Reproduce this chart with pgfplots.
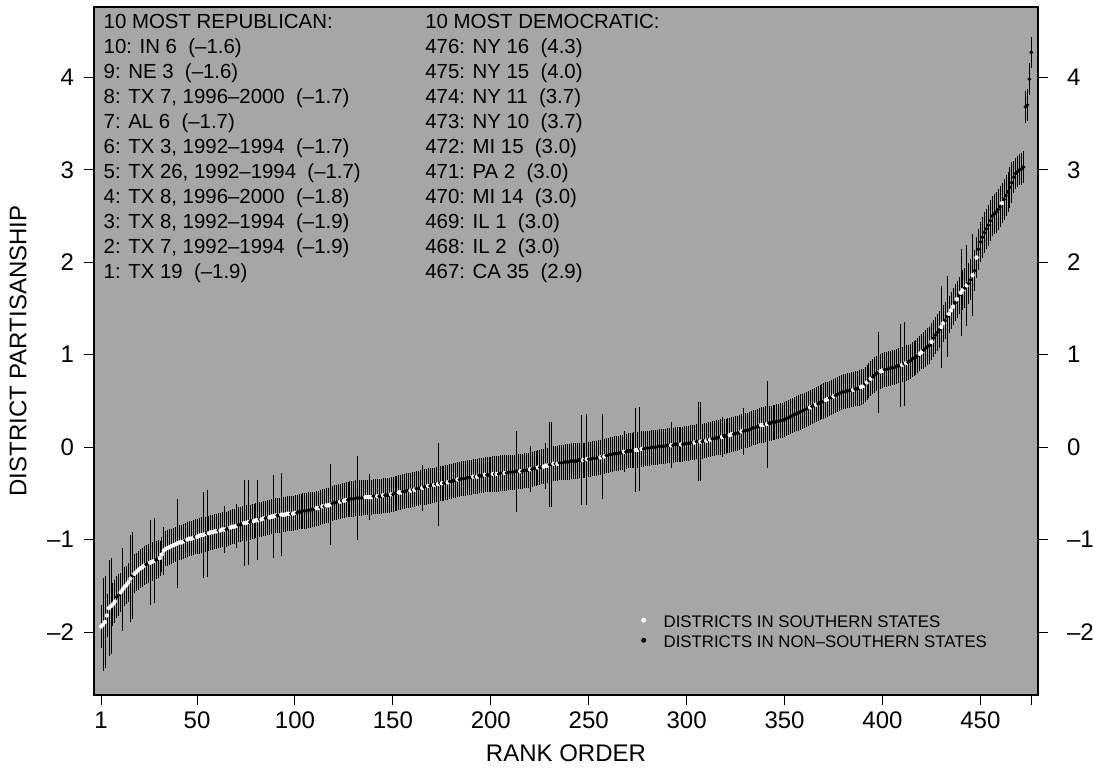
\documentclass[border=0pt]{standalone}
\usepackage{pgfplots}
\pgfplotsset{compat=1.18}
\usepackage{pgfplotstable}
\usepackage{fontspec}
\setmainfont{Liberation Sans}
\definecolor{panel}{HTML}{A6A6A6}

% rank, partisanship estimate, half-width of the interval, south (1) / non-south (0)
\pgfplotstableread[row sep=\\]{
r v e s\\
1 -1.94 0.23 1\\ 2 -1.92 0.50 1\\ 3 -1.89 0.50 1\\ 4 -1.82 0.23 1\\ 5 -1.74 0.52 1\\
6 -1.72 0.52 1\\ 7 -1.70 0.23 1\\ 8 -1.67 0.23 1\\ 9 -1.62 0.23 0\\ 10 -1.60 0.23 0\\
11 -1.57 0.21 1\\ 12 -1.54 0.45 1\\ 13 -1.51 0.21 1\\ 14 -1.49 0.21 1\\ 15 -1.46 0.21 1\\
16 -1.42 0.47 1\\ 17 -1.39 0.47 0\\ 18 -1.37 0.21 1\\ 19 -1.35 0.21 1\\ 20 -1.33 0.21 1\\
21 -1.31 0.21 1\\ 22 -1.30 0.21 1\\ 23 -1.28 0.21 1\\ 24 -1.27 0.21 0\\ 25 -1.26 0.21 0\\
26 -1.25 0.46 1\\ 27 -1.24 0.21 1\\ 28 -1.23 0.46 1\\ 29 -1.22 0.21 0\\ 30 -1.21 0.21 0\\
31 -1.20 0.19 1\\ 32 -1.16 0.19 1\\ 33 -1.12 0.26 1\\ 34 -1.10 0.19 1\\ 35 -1.09 0.19 1\\
36 -1.08 0.19 1\\ 37 -1.07 0.19 1\\ 38 -1.06 0.19 1\\ 39 -1.05 0.19 1\\ 40 -1.04 0.48 1\\
41 -1.03 0.19 1\\ 42 -1.03 0.19 1\\ 43 -1.02 0.19 1\\ 44 -1.01 0.19 0\\ 45 -1.00 0.19 1\\
46 -0.99 0.19 1\\ 47 -0.99 0.19 1\\ 48 -0.98 0.19 1\\ 49 -0.97 0.19 0\\ 50 -0.97 0.19 1\\
51 -0.96 0.19 1\\ 52 -0.95 0.19 1\\ 53 -0.95 0.47 1\\ 54 -0.94 0.19 1\\ 55 -0.93 0.47 0\\
56 -0.93 0.19 1\\ 57 -0.92 0.19 1\\ 58 -0.92 0.19 1\\ 59 -0.91 0.19 1\\ 60 -0.91 0.19 1\\
61 -0.90 0.19 0\\ 62 -0.90 0.19 1\\ 63 -0.89 0.19 1\\ 64 -0.89 0.25 1\\ 65 -0.89 0.19 0\\
66 -0.88 0.19 0\\ 67 -0.87 0.19 1\\ 68 -0.86 0.19 1\\ 69 -0.86 0.19 1\\ 70 -0.85 0.24 1\\
71 -0.84 0.19 0\\ 72 -0.84 0.19 0\\ 73 -0.83 0.19 0\\ 74 -0.82 0.46 1\\ 75 -0.82 0.19 1\\
76 -0.81 0.46 1\\ 77 -0.81 0.19 0\\ 78 -0.80 0.19 0\\ 79 -0.80 0.19 1\\ 80 -0.79 0.19 1\\
81 -0.79 0.43 1\\ 82 -0.78 0.19 0\\ 83 -0.78 0.19 1\\ 84 -0.77 0.19 1\\ 85 -0.77 0.19 0\\
86 -0.76 0.19 0\\ 87 -0.76 0.19 1\\ 88 -0.75 0.19 1\\ 89 -0.75 0.45 1\\ 90 -0.74 0.19 1\\
91 -0.74 0.19 0\\ 92 -0.74 0.19 0\\ 93 -0.73 0.45 1\\ 94 -0.73 0.19 1\\ 95 -0.73 0.19 1\\
96 -0.72 0.19 1\\ 97 -0.72 0.19 1\\ 98 -0.72 0.19 0\\ 99 -0.72 0.19 1\\ 100 -0.71 0.19 1\\
101 -0.71 0.19 0\\ 102 -0.70 0.19 0\\ 103 -0.70 0.19 0\\ 104 -0.69 0.19 0\\ 105 -0.69 0.19 0\\
106 -0.69 0.19 0\\ 107 -0.68 0.19 0\\ 108 -0.68 0.19 0\\ 109 -0.67 0.19 0\\ 110 -0.67 0.19 0\\
111 -0.66 0.19 1\\ 112 -0.66 0.19 1\\ 113 -0.65 0.19 0\\ 114 -0.64 0.19 1\\ 115 -0.64 0.19 0\\
116 -0.63 0.19 1\\ 117 -0.63 0.19 1\\ 118 -0.62 0.44 1\\ 119 -0.61 0.19 0\\ 120 -0.60 0.19 0\\
121 -0.60 0.19 0\\ 122 -0.59 0.19 0\\ 123 -0.59 0.19 1\\ 124 -0.58 0.19 0\\ 125 -0.58 0.19 1\\
126 -0.57 0.19 1\\ 127 -0.57 0.19 0\\ 128 -0.56 0.19 0\\ 129 -0.56 0.19 0\\ 130 -0.56 0.19 0\\
131 -0.55 0.19 0\\ 132 -0.55 0.45 0\\ 133 -0.55 0.19 0\\ 134 -0.55 0.19 0\\ 135 -0.54 0.19 0\\
136 -0.54 0.19 1\\ 137 -0.54 0.19 1\\ 138 -0.54 0.25 1\\ 139 -0.54 0.19 1\\ 140 -0.53 0.19 0\\
141 -0.53 0.19 0\\ 142 -0.53 0.19 1\\ 143 -0.53 0.19 0\\ 144 -0.53 0.19 0\\ 145 -0.52 0.19 1\\
146 -0.52 0.19 0\\ 147 -0.52 0.19 0\\ 148 -0.52 0.19 0\\ 149 -0.51 0.19 1\\ 150 -0.51 0.19 0\\
151 -0.50 0.19 0\\ 152 -0.50 0.19 0\\ 153 -0.49 0.19 1\\ 154 -0.49 0.19 1\\ 155 -0.48 0.19 0\\
156 -0.48 0.19 0\\ 157 -0.47 0.19 0\\ 158 -0.47 0.19 0\\ 159 -0.47 0.19 1\\ 160 -0.46 0.19 0\\
161 -0.46 0.19 1\\ 162 -0.45 0.19 0\\ 163 -0.45 0.19 0\\ 164 -0.44 0.19 0\\ 165 -0.44 0.25 1\\
166 -0.43 0.19 0\\ 167 -0.43 0.19 0\\ 168 -0.42 0.19 1\\ 169 -0.42 0.19 0\\ 170 -0.41 0.19 0\\
171 -0.41 0.19 1\\ 172 -0.40 0.19 0\\ 173 -0.40 0.45 1\\ 174 -0.39 0.19 0\\ 175 -0.39 0.19 1\\
176 -0.39 0.19 0\\ 177 -0.38 0.19 0\\ 178 -0.38 0.19 1\\ 179 -0.37 0.19 0\\ 180 -0.37 0.19 0\\
181 -0.36 0.19 0\\ 182 -0.36 0.19 0\\ 183 -0.35 0.19 1\\ 184 -0.35 0.19 0\\ 185 -0.34 0.19 0\\
186 -0.34 0.19 0\\ 187 -0.34 0.19 0\\ 188 -0.33 0.19 0\\ 189 -0.33 0.19 0\\ 190 -0.33 0.19 0\\
191 -0.32 0.19 1\\ 192 -0.32 0.19 0\\ 193 -0.32 0.19 1\\ 194 -0.31 0.19 0\\ 195 -0.31 0.19 0\\
196 -0.31 0.19 0\\ 197 -0.30 0.19 1\\ 198 -0.30 0.19 0\\ 199 -0.30 0.19 0\\ 200 -0.30 0.19 0\\
201 -0.29 0.19 1\\ 202 -0.29 0.19 0\\ 203 -0.29 0.19 1\\ 204 -0.29 0.19 0\\ 205 -0.28 0.19 0\\
206 -0.28 0.19 0\\ 207 -0.28 0.19 1\\ 208 -0.28 0.19 0\\ 209 -0.27 0.19 0\\ 210 -0.27 0.19 0\\
211 -0.27 0.19 0\\ 212 -0.27 0.19 0\\ 213 -0.26 0.44 0\\ 214 -0.26 0.19 0\\ 215 -0.26 0.19 1\\
216 -0.26 0.19 0\\ 217 -0.25 0.19 0\\ 218 -0.25 0.19 0\\ 219 -0.25 0.19 0\\ 220 -0.24 0.25 1\\
221 -0.24 0.19 0\\ 222 -0.23 0.19 0\\ 223 -0.23 0.19 0\\ 224 -0.22 0.19 1\\ 225 -0.22 0.19 0\\
226 -0.21 0.19 0\\ 227 -0.21 0.19 1\\ 228 -0.20 0.25 1\\ 229 -0.20 0.19 1\\ 230 -0.19 0.46 0\\
231 -0.19 0.46 0\\ 232 -0.18 0.19 1\\ 233 -0.18 0.19 0\\ 234 -0.18 0.19 1\\ 235 -0.17 0.19 0\\
236 -0.17 0.19 0\\ 237 -0.17 0.19 0\\ 238 -0.16 0.19 0\\ 239 -0.16 0.19 0\\ 240 -0.16 0.19 0\\
241 -0.15 0.19 0\\ 242 -0.15 0.19 0\\ 243 -0.15 0.19 0\\ 244 -0.15 0.19 0\\ 245 -0.14 0.19 0\\
246 -0.14 0.49 0\\ 247 -0.14 0.19 1\\ 248 -0.14 0.19 0\\ 249 -0.13 0.49 1\\ 250 -0.13 0.19 0\\
251 -0.13 0.19 0\\ 252 -0.12 0.19 0\\ 253 -0.12 0.19 0\\ 254 -0.12 0.19 0\\ 255 -0.11 0.19 0\\
256 -0.11 0.19 1\\ 257 -0.10 0.46 0\\ 258 -0.10 0.19 1\\ 259 -0.09 0.19 0\\ 260 -0.09 0.19 0\\
261 -0.08 0.19 0\\ 262 -0.08 0.19 0\\ 263 -0.07 0.19 0\\ 264 -0.07 0.19 0\\ 265 -0.07 0.19 0\\
266 -0.06 0.19 0\\ 267 -0.06 0.19 0\\ 268 -0.05 0.22 1\\ 269 -0.05 0.19 0\\ 270 -0.04 0.19 0\\
271 -0.04 0.19 0\\ 272 -0.04 0.19 0\\ 273 -0.03 0.19 0\\ 274 -0.03 0.45 1\\ 275 -0.03 0.19 1\\
276 -0.02 0.45 0\\ 277 -0.02 0.19 1\\ 278 -0.02 0.19 0\\ 279 -0.01 0.19 0\\ 280 -0.01 0.19 0\\
281 -0.01 0.19 0\\ 282 0.00 0.19 0\\ 283 0.00 0.19 0\\ 284 0.00 0.19 0\\ 285 0.00 0.19 0\\
286 0.01 0.19 0\\ 287 0.01 0.19 0\\ 288 0.01 0.19 0\\ 289 0.01 0.19 0\\ 290 0.02 0.19 0\\
291 0.02 0.19 0\\ 292 0.02 0.25 1\\ 293 0.02 0.19 0\\ 294 0.03 0.19 0\\ 295 0.03 0.19 0\\
296 0.03 0.19 0\\ 297 0.03 0.19 1\\ 298 0.03 0.19 0\\ 299 0.04 0.19 0\\ 300 0.04 0.19 0\\
301 0.04 0.19 0\\ 302 0.05 0.19 0\\ 303 0.05 0.19 0\\ 304 0.05 0.19 1\\ 305 0.06 0.19 0\\
306 0.06 0.43 0\\ 307 0.06 0.43 1\\ 308 0.06 0.19 0\\ 309 0.07 0.19 0\\ 310 0.07 0.19 1\\
311 0.08 0.19 0\\ 312 0.08 0.19 1\\ 313 0.09 0.19 0\\ 314 0.09 0.19 0\\ 315 0.10 0.19 0\\
316 0.10 0.19 0\\ 317 0.11 0.19 0\\ 318 0.11 0.22 1\\ 319 0.12 0.19 0\\ 320 0.12 0.19 0\\
321 0.13 0.19 0\\ 322 0.13 0.19 1\\ 323 0.14 0.19 1\\ 324 0.14 0.19 0\\ 325 0.15 0.19 0\\
326 0.15 0.19 0\\ 327 0.16 0.19 0\\ 328 0.17 0.19 1\\ 329 0.17 0.25 0\\ 330 0.18 0.19 0\\
331 0.18 0.19 0\\ 332 0.19 0.19 0\\ 333 0.20 0.19 0\\ 334 0.21 0.19 0\\ 335 0.21 0.19 0\\
336 0.22 0.19 0\\ 337 0.23 0.19 0\\ 338 0.24 0.19 1\\ 339 0.24 0.19 1\\ 340 0.25 0.19 0\\
341 0.25 0.47 1\\ 342 0.26 0.19 0\\ 343 0.26 0.19 0\\ 344 0.27 0.19 0\\ 345 0.27 0.19 0\\
346 0.28 0.19 0\\ 347 0.28 0.19 0\\ 348 0.29 0.19 0\\ 349 0.29 0.19 0\\ 350 0.30 0.19 0\\
351 0.31 0.19 0\\ 352 0.32 0.19 0\\ 353 0.33 0.19 0\\ 354 0.34 0.19 0\\ 355 0.35 0.19 0\\
356 0.36 0.19 0\\ 357 0.37 0.19 0\\ 358 0.38 0.19 0\\ 359 0.39 0.19 0\\ 360 0.40 0.19 0\\
361 0.41 0.19 0\\ 362 0.42 0.19 0\\ 363 0.43 0.19 1\\ 364 0.44 0.19 0\\ 365 0.45 0.19 0\\
366 0.46 0.19 1\\ 367 0.47 0.19 0\\ 368 0.48 0.19 0\\ 369 0.49 0.19 0\\ 370 0.50 0.19 0\\
371 0.51 0.19 1\\ 372 0.52 0.19 1\\ 373 0.53 0.19 0\\ 374 0.54 0.19 0\\ 375 0.55 0.19 1\\
376 0.56 0.19 0\\ 377 0.57 0.19 0\\ 378 0.58 0.19 0\\ 379 0.59 0.19 0\\ 380 0.60 0.19 0\\
381 0.60 0.19 0\\ 382 0.61 0.19 0\\ 383 0.61 0.19 0\\ 384 0.62 0.19 0\\ 385 0.62 0.19 1\\
386 0.63 0.19 0\\ 387 0.63 0.19 0\\ 388 0.64 0.19 0\\ 389 0.65 0.19 1\\ 390 0.66 0.19 1\\
391 0.68 0.19 0\\ 392 0.70 0.19 1\\ 393 0.72 0.19 0\\ 394 0.74 0.19 1\\ 395 0.76 0.19 0\\
396 0.78 0.19 0\\ 397 0.80 0.19 0\\ 398 0.81 0.44 0\\ 399 0.82 0.19 1\\ 400 0.83 0.19 1\\
401 0.84 0.19 0\\ 402 0.84 0.19 0\\ 403 0.85 0.19 0\\ 404 0.85 0.19 0\\ 405 0.86 0.19 0\\
406 0.86 0.19 0\\ 407 0.87 0.19 0\\ 408 0.88 0.19 0\\ 409 0.88 0.45 0\\ 410 0.89 0.19 1\\
411 0.90 0.45 0\\ 412 0.91 0.19 1\\ 413 0.92 0.19 0\\ 414 0.93 0.19 0\\ 415 0.95 0.19 0\\
416 0.96 0.19 0\\ 417 0.97 0.19 0\\ 418 0.99 0.19 0\\ 419 1.01 0.19 1\\ 420 1.03 0.19 1\\
421 1.05 0.20 0\\ 422 1.07 0.20 0\\ 423 1.09 0.20 0\\ 424 1.10 0.20 0\\ 425 1.14 0.20 1\\
426 1.18 0.20 0\\ 427 1.21 0.20 0\\ 428 1.24 0.20 0\\ 429 1.27 0.20 0\\ 430 1.30 0.44 1\\
431 1.34 0.20 1\\ 432 1.37 0.20 0\\ 433 1.41 0.44 0\\ 434 1.44 0.20 1\\ 435 1.48 0.20 1\\
436 1.52 0.20 1\\ 437 1.56 0.20 0\\ 438 1.60 0.20 1\\ 439 1.64 0.20 0\\ 440 1.67 0.47 1\\
441 1.70 0.22 1\\ 442 1.72 0.22 0\\ 443 1.75 0.44 1\\ 444 1.77 0.22 0\\ 445 1.81 0.22 0\\
446 1.86 0.44 1\\ 447 1.91 0.22 0\\ 448 2.05 0.22 1\\ 449 2.14 0.22 0\\ 450 2.22 0.22 0\\
451 2.27 0.22 0\\ 452 2.32 0.22 0\\ 453 2.36 0.22 0\\ 454 2.40 0.22 0\\ 455 2.45 0.22 0\\
456 2.50 0.22 0\\ 457 2.52 0.22 0\\ 458 2.54 0.22 0\\ 459 2.57 0.22 0\\ 460 2.60 0.22 0\\
461 2.64 0.22 1\\ 462 2.68 0.22 0\\ 463 2.72 0.22 0\\ 464 2.76 0.22 0\\ 465 2.81 0.22 0\\
466 2.86 0.22 0\\ 467 2.92 0.17 0\\ 468 2.96 0.17 0\\ 469 2.98 0.17 0\\ 470 3.00 0.17 0\\
471 3.01 0.17 0\\ 472 3.03 0.17 0\\ 473 3.68 0.17 0\\ 474 3.70 0.17 0\\ 475 3.98 0.17 0\\
476 4.27 0.17 0\\
}\districts

\pgfplotsset{
  frame/.style={
    scale only axis, width=472pt, height=344pt,
    at={(0,0)}, anchor=south west,
    xmin=-2.6, xmax=479.4, ymin=-2.68, ymax=4.76,
    ytick={-2,-1,0,1,2,3,4},
    yticklabels={–2,–1,0,1,2,3,4},
    tick align=outside, major tick length=5pt,
    tick style={black, line width=0.5pt},
    ticklabel style={font=\fontsize{12}{14}\selectfont},
  },
}

\begin{document}
\begin{tikzpicture}
\path[use as bounding box] (-47pt,-41pt) rectangle (500pt,347.5pt);
% frame, intervals, annotations
\begin{axis}[
  frame, clip=false,
  axis background/.style={fill=panel},
  axis line style={line width=0.6pt},
  xtick={1,50,100,150,200,250,300,350,400,450,476},
  xticklabels={1,50,100,150,200,250,300,350,400,450,{}},
  xtick pos=bottom, ytick pos=left,
  yticklabel style={xshift=-1.5pt},
  xlabel={RANK ORDER}, ylabel={DISTRICT PARTISANSHIP},
  label style={font=\fontsize{12}{14}\selectfont},
  xlabel style={at={(axis description cs:0.5,-0.0843)}, anchor=center},
  ylabel style={at={(axis description cs:-0.0805,0.5)}, anchor=center},
  legend style={draw=none, fill=none, inner sep=0pt, row sep=0pt,
    at={(rel axis cs:0.5793,0.117)}, anchor=north west,
    font=\fontsize{8.4}{10}\selectfont,
    nodes={inner sep=0pt, text height=6.5pt, text depth=3.5pt}},
  legend cell align=left,
]
% intervals only: zero-size marks
\addplot[black, only marks, mark=*, mark size=0pt,
  mark options={draw=none, fill=none}, forget plot,
  error bars/.cd, y dir=both, y explicit, error mark=none,
  error bar style={line width=0.3pt, black}]
  table[x=r, y=v, y error=e] {\districts};

\addlegendimage{legend image code/.code={\path[draw=none, fill=none] (-1pt,-3pt) rectangle (10pt,3pt); \fill[white] (0pt,2.3pt) circle (1pt);}}
\addlegendentry{DISTRICTS IN SOUTHERN STATES}
\addlegendimage{legend image code/.code={\path[draw=none, fill=none] (-1pt,-3pt) rectangle (10pt,3pt); \fill[black] (0pt,2.3pt) circle (1pt);}}
\addlegendentry{DISTRICTS IN NON–SOUTHERN STATES}

\node[anchor=north west, align=left, inner sep=0pt,
  font=\fontsize{10.2}{12.5}\selectfont]
  at (rel axis cs:0.0099,1) [yshift=-3.5pt] {%
  10 MOST REPUBLICAN:\\
  10: IN 6\ \ (–1.6)\\
  9: NE 3\ \ (–1.6)\\
  8: TX 7, 1996–2000\ \ (–1.7)\\
  7: AL 6\ \ (–1.7)\\
  6: TX 3, 1992–1994\ \ (–1.7)\\
  5: TX 26, 1992–1994\ \ (–1.7)\\
  4: TX 8, 1996–2000\ \ (–1.8)\\
  3: TX 8, 1992–1994\ \ (–1.9)\\
  2: TX 7, 1992–1994\ \ (–1.9)\\
  1: TX 19\ \ (–1.9)};
\node[anchor=north west, align=left, inner sep=0pt,
  font=\fontsize{10.2}{12.5}\selectfont]
  at (rel axis cs:0.3506,1) [yshift=-3.5pt] {%
  10 MOST DEMOCRATIC:\\
  476: NY 16\ \ (4.3)\\
  475: NY 15\ \ (4.0)\\
  474: NY 11\ \ (3.7)\\
  473: NY 10\ \ (3.7)\\
  472: MI 15\ \ (3.0)\\
  471: PA 2\ \ (3.0)\\
  470: MI 14\ \ (3.0)\\
  469: IL 1\ \ (3.0)\\
  468: IL 2\ \ (3.0)\\
  467: CA 35\ \ (2.9)};
\end{axis}
% right-hand scale
\begin{axis}[
  frame,
  axis x line=none, axis y line*=right,
  axis line style={line width=0.6pt},
  yticklabel style={xshift=6pt},
]
\end{axis}
% point estimates, drawn over the intervals
\begin{axis}[frame, hide axis]
\addplot[scatter, only marks, mark=*, mark size=0.9pt,
  scatter src=explicit symbolic,
  scatter/classes={0={mark=*, mark size=0.9pt, draw=black, fill=black, line width=0.1pt},
                   1={mark=*, mark size=1pt, draw=white, fill=white, line width=0.1pt}}]
  table[x=r, y=v, meta=s] {\districts};
\end{axis}
\end{tikzpicture}
\end{document}
